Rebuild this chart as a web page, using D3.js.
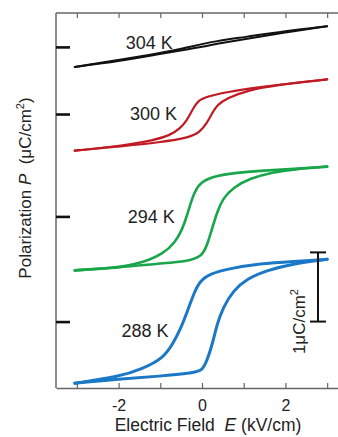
<!DOCTYPE html>
<html>
<head>
<meta charset="utf-8">
<script src="https://cdn.jsdelivr.net/npm/d3@7"></script>
<style>
  body { margin: 0; background: #fff; }
  svg { display: block; font-family: "Liberation Sans", Arial, sans-serif; }
  .title { white-space: pre; }
</style>
</head>
<body>
<svg id="chart" width="338" height="437"></svg>
<script>
// branches of each hysteresis loop: [E (kV/cm), P (uC/cm^2, offset)]
var rise304 = [[-3.05, 4.64], [-2, 4.72], [-1, 4.83], [-0.3, 4.90], [0, 4.93], [0.3, 4.97], [1, 5.04], [2, 5.14], [3, 5.23]];
var fall304 = [[-3.05, 4.64], [-2, 4.74], [-1, 4.84], [-0.3, 4.93], [0, 4.97], [0.3, 5.01], [1, 5.07], [2, 5.16], [3, 5.23]];

var rise300 = [[-3.05, 3.43], [-2, 3.49], [-1, 3.55], [-0.29, 3.62], [-0.05, 3.70], [0.12, 3.83], [0.24, 3.97], [0.36, 4.09], [0.6, 4.19], [1.08, 4.30], [1.8, 4.38], [3, 4.46]];
var fall300 = [[-3.05, 3.43], [-1.8, 3.51], [-1.18, 3.58], [-0.77, 3.65], [-0.53, 3.75], [-0.36, 3.87], [-0.24, 4.01], [-0.12, 4.13], [0.03, 4.20], [0.6, 4.28], [1.4, 4.35], [2.2, 4.41], [3, 4.46]];

var rise294 = [[-3.05, 1.70], [-2, 1.74], [-1, 1.80], [-0.36, 1.83], [0, 1.90], [0.12, 2.06], [0.24, 2.30], [0.36, 2.54], [0.5, 2.74], [0.75, 2.90], [1.15, 3.03], [1.7, 3.12], [2.2, 3.16], [3, 3.20]];
var fall294 = [[-3.05, 1.70], [-2, 1.74], [-1.42, 1.81], [-0.93, 1.94], [-0.65, 2.10], [-0.48, 2.28], [-0.36, 2.49], [-0.24, 2.74], [-0.1, 2.93], [0.12, 3.03], [0.6, 3.10], [1.4, 3.14], [2.2, 3.17], [3, 3.20]];

var rise288 = [[-3.05, 0.07], [-2, 0.13], [-1, 0.17], [-0.2, 0.22], [0, 0.25], [0.12, 0.39], [0.27, 0.68], [0.35, 0.90], [0.5, 1.16], [0.75, 1.41], [1.08, 1.58], [1.55, 1.70], [2.2, 1.80], [3, 1.86]];
var fall288 = [[-3.05, 0.07], [-2, 0.16], [-1.42, 0.28], [-0.93, 0.43], [-0.7, 0.64], [-0.53, 0.83], [-0.33, 1.14], [-0.2, 1.36], [-0.05, 1.55], [0.2, 1.65], [0.6, 1.72], [1.4, 1.80], [2.2, 1.83], [3, 1.86]];

var loopNames = ["304 K", "300 K", "294 K", "288 K"];
var loopColors = ["#111111", "#c01a24", "#19a64a", "#1a78c6"];
var loopWidths = [2, 2.2, 2.6, 3];
// label anchor: [E at right edge, P at middle]
var labelPos = [[-0.7, 5.0], [-0.6, 3.96], [-0.65, 2.48], [-0.8, 0.83]];

var xTicks = [-3, -2, -1, 0, 1, 2, 3];
var xLabels = [-2, 0, 2];
var yTicks = [0.96, 2.48, 3.96, 4.93];
var scaleBar = [0.96, 1.96]; // 1 uC/cm^2

function drawChart() {
    var svg = d3.select("#chart");
    var x = d3.scaleLinear().domain([-3.5, 3.26]).range([56, 338]),
        y = d3.scaleLinear().domain([0, 5.42]).range([388, 13]);

    var axisColor = "#666";

    // frame: left, top, bottom
    svg.append("line").attr("x1", 56).attr("x2", 56).attr("y1", y(5.42)).attr("y2", y(0))
        .attr("stroke", axisColor).attr("stroke-width", 1.5);
    svg.append("line").attr("x1", 56).attr("x2", 338).attr("y1", y(5.42)).attr("y2", y(5.42))
        .attr("stroke", axisColor).attr("stroke-width", 1.5);

    var bottom = svg.append("g").attr("transform", "translate(0," + y(0) + ")")
        .call(d3.axisBottom(x).tickValues(xTicks).tickSize(-5).tickSizeOuter(0)
            .tickFormat(function(d) { return xLabels.indexOf(d) >= 0 ? d : ""; }));
    bottom.select(".domain").attr("stroke", axisColor).attr("stroke-width", 1.5);
    bottom.selectAll(".tick line").attr("stroke", axisColor).attr("stroke-width", 1.2);
    bottom.selectAll(".tick text").attr("font-size", 16).attr("fill", "#222")
        .attr("y", 23).attr("dy", null).attr("font-family", "Liberation Sans, Arial, sans-serif");

    var top = svg.append("g").attr("transform", "translate(0," + y(5.42) + ")")
        .call(d3.axisTop(x).tickValues(xTicks).tickSize(-5).tickFormat(""));
    top.select(".domain").remove();
    top.selectAll(".tick line").attr("stroke", axisColor).attr("stroke-width", 1.2);

    var left = svg.append("g").attr("transform", "translate(56,0)")
        .call(d3.axisLeft(y).tickValues(yTicks).tickSize(-14).tickFormat(""));
    left.select(".domain").remove();
    left.selectAll(".tick line").attr("stroke", "#111").attr("stroke-width", 2.6);

    var line = d3.line()
        .x(function(d) { return x(d[0]); })
        .y(function(d) { return y(d[1]); })
        .curve(d3.curveBasis);

    var loops = [[rise304, fall304], [rise300, fall300], [rise294, fall294], [rise288, fall288]];
    loops.forEach(function(branches, i) {
        branches.forEach(function(b) {
            svg.append("path").attr("d", line(b)).attr("fill", "none")
                .attr("stroke", loopColors[i]).attr("stroke-width", loopWidths[i])
                .attr("stroke-linecap", "round");
        });
        svg.append("text")
            .attr("x", x(labelPos[i][0])).attr("y", y(labelPos[i][1]))
            .attr("dy", "0.36em").attr("text-anchor", "end")
            .attr("font-size", 18).attr("fill", "#222")
            .text(loopNames[i]);
    });

    // 1 uC/cm^2 scale bar
    var bx = 318;
    var bar = svg.append("g").attr("stroke", "#111").attr("stroke-width", 2);
    bar.append("line").attr("x1", bx).attr("x2", bx).attr("y1", y(scaleBar[0])).attr("y2", y(scaleBar[1]));
    bar.append("line").attr("x1", bx - 8).attr("x2", bx + 8).attr("y1", y(scaleBar[0])).attr("y2", y(scaleBar[0]));
    bar.append("line").attr("x1", bx - 8).attr("x2", bx + 8).attr("y1", y(scaleBar[1])).attr("y2", y(scaleBar[1]));

    var sb = svg.append("text")
        .attr("transform", "translate(305," + y(scaleBar[0]) + ") rotate(-90)")
        .attr("text-anchor", "middle").attr("font-size", 17).attr("fill", "#222");
    sb.append("tspan").text("1\u03bcC/cm");
    sb.append("tspan").attr("dy", -7).attr("font-size", 11).text("2");

    // axis titles
    var xt = svg.append("text").attr("class", "title").attr("x", 208).attr("y", 431)
        .attr("text-anchor", "middle").attr("font-size", 17.5).attr("fill", "#222");
    xt.append("tspan").text("Electric Field  ");
    xt.append("tspan").attr("font-style", "italic").text("E");
    xt.append("tspan").text(" (kV/cm)");

    var yt = svg.append("text").attr("class", "title")
        .attr("transform", "translate(31,188) rotate(-90)")
        .attr("text-anchor", "middle").attr("font-size", 17).attr("fill", "#222");
    yt.append("tspan").text("Polarization ");
    yt.append("tspan").attr("font-style", "italic").text("P");
    yt.append("tspan").text("  (\u03bcC/cm");
    yt.append("tspan").attr("dy", -7).attr("font-size", 11).text("2");
    yt.append("tspan").attr("dy", 7).text(")");
}

drawChart();
</script>
</body>
</html>
